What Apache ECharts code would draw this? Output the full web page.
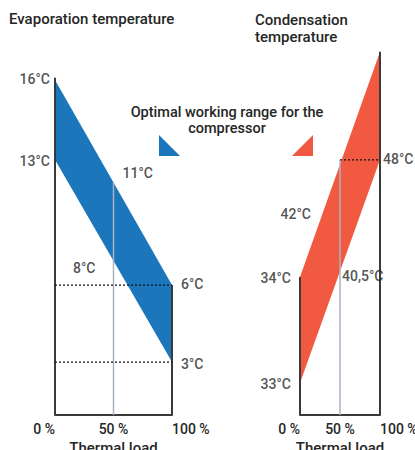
<!DOCTYPE html>
<html>
<head>
<meta charset="utf-8">
<script src="https://cdn.jsdelivr.net/npm/echarts@6/dist/echarts.min.js"></script>
<style>
  html, body { margin: 0; padding: 0; background: #fff; }
  #chart { width: 415px; height: 450px; }
</style>
</head>
<body>
<div id="chart"></div>
<script>
// ---- Data (schematic diagram: levels are heights in diagram units 0..100) ----
const loads = [0, 50, 100];                       // thermal load, %
const xTicks = [0, 50, 100];
const evapUpperLevel = [91.8, 63.7, 35.6];
const evapLowerLevel = [69.9, 42.2, 14.5];
const evapUpperTemp = ['16°C', '11°C', '6°C'];
const evapLowerTemp = ['13°C', '8°C', '3°C'];
const condUpperLevel = [37.8, 68.7, 99.5];
const condLowerLevel = [8.8, 39.4, 69.9];
const condUpperTemp = ['34°C', '', ''];
const condLowerTemp = ['33°C', '40,5°C', '48°C'];
const condNoteLoad = [25];
const condNoteTemp = ['42°C'];
const titles = ['Evaporation temperature', 'Condensation\ntemperature'];
const legendLines = ['Optimal working range for the', 'compressor'];
const xAxisName = 'Thermal load';

const BLUE = '#1b76bc', RED = '#f15a40', GRID = '#a7b3c3', DARK = '#3a3a3a', TXT = '#262626';
const FONT = 'Roboto, "Noto Sans", sans-serif';
const W = 500;

function lerp(levels, load) {
  return levels[0] + (levels[2] - levels[0]) * load / 100;
}

function polygonSeries(idx, pts, color) {
  return {
    type: 'custom', xAxisIndex: idx, yAxisIndex: idx, silent: true, z: 1, clip: false,
    data: pts,
    renderItem: (params, api) => params.dataIndex === 0 ? {
      type: 'polygon',
      shape: { points: pts.map(p => api.coord(p)) },
      style: { fill: color }
    } : null
  };
}
function lineSeries(idx, pts, color, width, type, z) {
  return {
    type: 'line', xAxisIndex: idx, yAxisIndex: idx, data: pts, symbol: 'none', silent: true,
    z: z || 3, lineStyle: { color: color, width: width, type: type || 'solid' }, animation: false
  };
}
function labelItem(x, y, text, position, distance, offset) {
  return {
    value: [x, y],
    label: { show: true, formatter: text, position: position, distance: distance, offset: offset || [0, 0],
      color: TXT, fontSize: 14, fontWeight: W, fontFamily: FONT }
  };
}
function labelSeries(idx, items) {
  return { type: 'scatter', xAxisIndex: idx, yAxisIndex: idx, symbolSize: 0, silent: true, z: 5, data: items };
}

const chart = echarts.init(document.getElementById('chart'), null, { renderer: 'svg' });

const xAxisBase = (idx) => ({
  type: 'value', gridIndex: idx, min: xTicks[0], max: xTicks[xTicks.length - 1], interval: 50,
  axisLine: { show: true, lineStyle: { color: DARK, width: 2 } },
  axisTick: { show: false }, splitLine: { show: false },
  axisLabel: { formatter: '{value} %', color: TXT, fontSize: 14, fontWeight: W, fontFamily: FONT, margin: 7,
    alignMinLabel: 'right', alignMaxLabel: 'left' },
  name: xAxisName, nameLocation: 'middle', nameGap: 23,
  nameTextStyle: { color: TXT, fontSize: 15, fontWeight: W, fontFamily: FONT }
});
const yAxisBase = (idx) => ({ type: 'value', gridIndex: idx, min: 0, max: 100, show: false });

const evapPoly = [[loads[0], evapUpperLevel[0]], [loads[2], evapUpperLevel[2]], [loads[2], evapLowerLevel[2]], [loads[0], evapLowerLevel[0]]];
const condPoly = [[loads[0], condUpperLevel[0]], [loads[2], condUpperLevel[2]], [loads[2], condLowerLevel[2]], [loads[0], condLowerLevel[0]]];

const option = {
  animation: false,
  backgroundColor: '#fff',
  grid: [
    { left: 55, width: 117, top: 50, bottom: 35, containLabel: false, outerBoundsMode: 'none' },
    { left: 300, width: 80, top: 50, bottom: 35, containLabel: false, outerBoundsMode: 'none' }
  ],
  xAxis: [xAxisBase(0), xAxisBase(1)],
  yAxis: [yAxisBase(0), yAxisBase(1)],
  graphic: [
    { type: 'text', x: 9, y: 11, style: { text: titles[0], fill: TXT, font: W + ' 15px ' + FONT } },
    { type: 'text', x: 255, y: 11, style: { text: titles[1], fill: TXT, font: W + ' 15px ' + FONT, lineHeight: 17 } },
    { type: 'text', x: 227, y: 112, style: { text: legendLines[0], fill: TXT, font: W + ' 14.5px ' + FONT, align: 'center', verticalAlign: 'middle' } },
    { type: 'text', x: 227, y: 128, style: { text: legendLines[1], fill: TXT, font: W + ' 14.5px ' + FONT, align: 'center', verticalAlign: 'middle' } },
    { type: 'polygon', shape: { points: [[159, 135], [159, 156], [180, 156]] }, style: { fill: BLUE } },
    { type: 'polygon', shape: { points: [[313, 135], [292, 156], [313, 156]] }, style: { fill: RED } }
  ],
  series: [
    // ---- Evaporation ----
    polygonSeries(0, evapPoly, BLUE),
    lineSeries(0, [[loads[0], 0], [loads[0], evapUpperLevel[0] + 0.6]], DARK, 2),
    lineSeries(0, [[loads[2], 0], [loads[2], evapUpperLevel[2]]], DARK, 2),
    lineSeries(0, [[loads[1], 0], [loads[1], evapUpperLevel[1]]], GRID, 1.5, 'solid', 4),
    lineSeries(0, [[loads[0], evapUpperLevel[2]], [loads[2], evapUpperLevel[2]]], '#111', 1.2, [2, 2], 4),
    lineSeries(0, [[loads[0], evapLowerLevel[2]], [loads[2], evapLowerLevel[2]]], '#111', 1.2, [2, 2], 4),
    labelSeries(0, [
      labelItem(loads[0], evapUpperLevel[0], evapUpperTemp[0], 'left', 5, [0, -1]),
      labelItem(loads[0], evapLowerLevel[0], evapLowerTemp[0], 'left', 5, [0, 1]),
      labelItem(loads[1], evapUpperLevel[1], evapUpperTemp[1], 'right', 9, [0, -9]),
      labelItem(loads[1], evapLowerLevel[1], evapLowerTemp[1], 'left', 18, [0, 7]),
      labelItem(loads[2], evapUpperLevel[2], evapUpperTemp[2], 'right', 9, [0, -1]),
      labelItem(loads[2], evapLowerLevel[2], evapLowerTemp[2], 'right', 9, [0, 2])
    ]),
    // ---- Condensation ----
    polygonSeries(1, condPoly, RED),
    lineSeries(1, [[loads[0], 0], [loads[0], condUpperLevel[0]]], DARK, 2),
    lineSeries(1, [[loads[2], 0], [loads[2], condUpperLevel[2]]], DARK, 2),
    lineSeries(1, [[loads[1], 0], [loads[1], condLowerLevel[2]]], GRID, 1.5, 'solid', 4),
    lineSeries(1, [[loads[1], condLowerLevel[2]], [loads[2], condLowerLevel[2]]], '#111', 1.2, [2, 2], 4),
    labelSeries(1, [
      labelItem(loads[0], condUpperLevel[0], condUpperTemp[0], 'left', 9, [0, 1]),
      labelItem(loads[0], condLowerLevel[0], condLowerTemp[0], 'left', 9, [0, 1]),
      labelItem(loads[1], condLowerLevel[1], condLowerTemp[1], 'right', 2, [0, 5]),
      labelItem(loads[2], condLowerLevel[2], condLowerTemp[2], 'right', 3, [0, -1]),
      labelItem(condNoteLoad[0], lerp(condUpperLevel, condNoteLoad[0]), condNoteTemp[0], 'left', 9, [0, -7])
    ])
  ]
};
chart.setOption(option);
</script>
</body>
</html>
